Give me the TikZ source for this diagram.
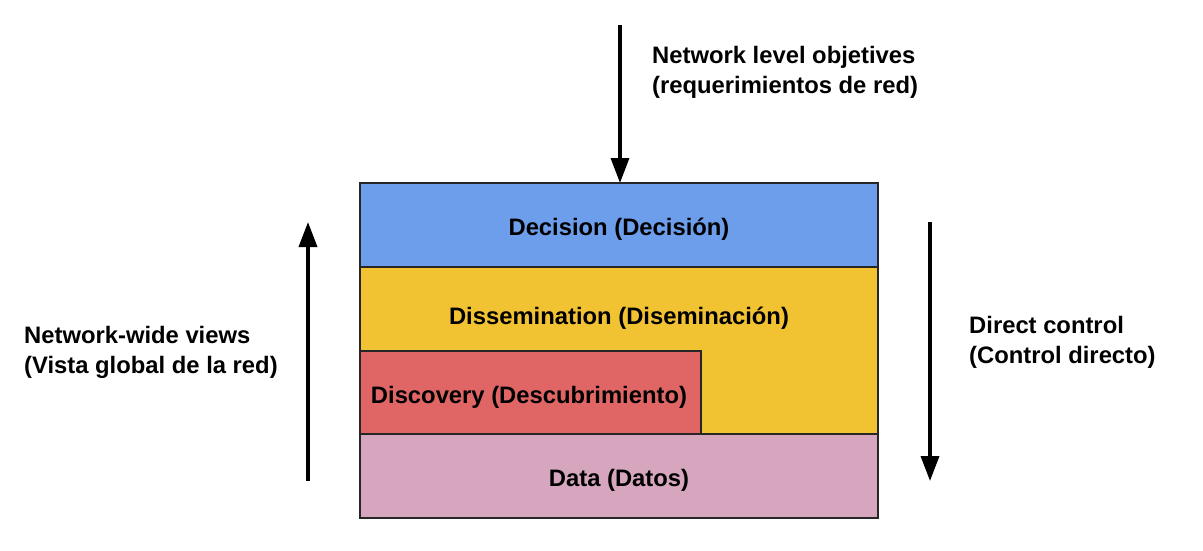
\documentclass[tikz,border=0pt]{standalone}
\usepackage{fontspec}
\setmainfont{Liberation Sans}
\usetikzlibrary{arrows.meta}
\definecolor{cdec}{HTML}{6D9EEB}
\definecolor{cdis}{HTML}{F1C232}
\definecolor{cdsc}{HTML}{E06666}
\definecolor{cdat}{HTML}{D5A6BD}
\begin{document}
\begin{tikzpicture}[x=1pt,y=-1pt,
  band/.style={draw=black!85, line width=1.5pt, rectangle, inner sep=0pt, outer sep=0pt, anchor=north west},
  lbl/.style={font=\bfseries\fontsize{23.8}{30}\selectfont, inner sep=0pt, align=left},
  arr/.style={line width=3.5pt, -{Triangle[length=25pt,width=18pt]}},
]
\useasboundingbox (0,0) rectangle (1203,551);
% bands
\node[band, fill=cdis, minimum width=518pt, minimum height=167pt] (dis) at (360,267) {};
\node[band, fill=cdsc, minimum width=341pt, minimum height=83pt] (dsc) at (360,351) {};
\node[band, fill=cdat, minimum width=518pt, minimum height=84pt] (dat) at (360,434) {};
\node[band, fill=cdec, minimum width=518pt, minimum height=84pt] (dec) at (360,183) {};
% band labels
\node[lbl, anchor=base] (tdec) at (619,235) {Decision (Decisión)};
\node[lbl, anchor=base] (tdis) at (619,324) {Dissemination (Diseminación)};
\node[lbl, anchor=base] (tdsc) at (529,403) {Discovery (Descubrimiento)};
\node[lbl, anchor=base] (tdat) at (619,486) {Data (Datos)};
% side labels (base anchor = baseline of the last line)
\node[lbl, anchor=base west] (tobj) at (652,94) {Network level objetives\\(requerimientos de red)};
\node[lbl, anchor=base west] (tview) at (24,373) {Network-wide views\\(Vista global de la red)};
\node[lbl, anchor=base west] (tctl) at (969,363) {Direct control\\(Control directo)};
% arrows
\coordinate (topstart) at (620,25);
\coordinate (lstart) at (308,481);
\coordinate (lend) at (308,222);
\coordinate (rstart) at (930,222);
\coordinate (rend) at (930,481);
\draw[arr] (topstart) -- (topstart |- dec.north);
\draw[arr] (lstart) -- (lend);
\draw[arr] (rstart) -- (rend);
\end{tikzpicture}
\end{document}
